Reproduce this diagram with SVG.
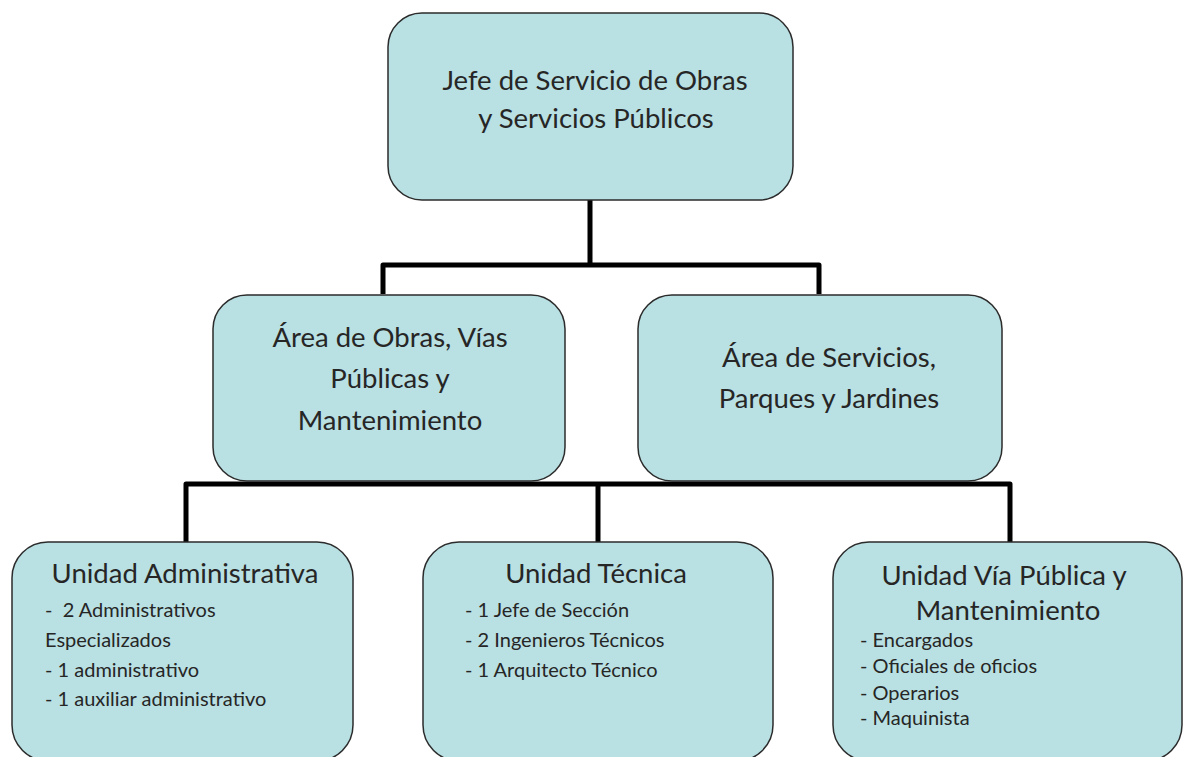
<svg xmlns="http://www.w3.org/2000/svg" width="1183" height="757" viewBox="0 0 1183 757">
<style>
.box{fill:#b9e0e3;stroke:#2b2b2b;stroke-width:1.5}
.t{font-family:Lato,"Open Sans",sans-serif;fill:#262626}
.h{font-size:27.5px;text-anchor:middle}
.u{font-size:27.5px;text-anchor:middle}
.i{font-size:20px}
.c{fill:none;stroke:#000;stroke-width:5;stroke-linejoin:round}
</style>
<rect width="1183" height="757" fill="#fff"/>
<g id="connectors">
<path class="c" d="M590 200 V265 M383 294 V265 H819 V294"/>
<path class="c" d="M186 543 V484 H1010 V543 M598 484 V543"/>
</g>
<g id="jefe">
<rect class="box" x="388" y="13" width="405" height="187" rx="34"/>
<text class="t h" x="595" y="90">Jefe de Servicio de Obras</text>
<text class="t h" x="596" y="128">y Servicios Públicos</text>
</g>
<g id="area-obras">
<rect class="box" x="213" y="295" width="352" height="186" rx="34"/>
<text class="t h" x="390" y="347">Área de Obras, Vías</text>
<text class="t h" x="390" y="388">Públicas y</text>
<text class="t h" x="390" y="430">Mantenimiento</text>
</g>
<g id="area-servicios">
<rect class="box" x="638" y="295" width="364" height="186" rx="34"/>
<text class="t h" x="829" y="367">Área de Servicios,</text>
<text class="t h" x="829" y="408">Parques y Jardines</text>
</g>
<g id="unidad-administrativa">
<rect class="box" x="12" y="542" width="341" height="219" rx="36"/>
<text class="t u" x="185" y="583">Unidad Administrativa</text>
<text class="t i" x="45" y="617">-&#160; 2 Administrativos</text>
<text class="t i" x="45" y="647">Especializados</text>
<text class="t i" x="45" y="677">- 1 administrativo</text>
<text class="t i" x="45" y="706">- 1 auxiliar administrativo</text>
</g>
<g id="unidad-tecnica">
<rect class="box" x="423" y="542" width="350" height="219" rx="36"/>
<text class="t u" x="596" y="583">Unidad Técnica</text>
<text class="t i" x="465" y="617">- 1 Jefe de Sección</text>
<text class="t i" x="465" y="647">- 2 Ingenieros Técnicos</text>
<text class="t i" x="465" y="677">- 1 Arquitecto Técnico</text>
</g>
<g id="unidad-via-publica">
<rect class="box" x="833" y="542" width="349" height="219" rx="36"/>
<text class="t u" x="1004" y="585">Unidad Vía Pública y</text>
<text class="t u" x="1008" y="620">Mantenimiento</text>
<text class="t i" x="860" y="647">- Encargados</text>
<text class="t i" x="860" y="673">- Oficiales de oficios</text>
<text class="t i" x="860" y="700">- Operarios</text>
<text class="t i" x="860" y="725">- Maquinista</text>
</g>
</svg>
